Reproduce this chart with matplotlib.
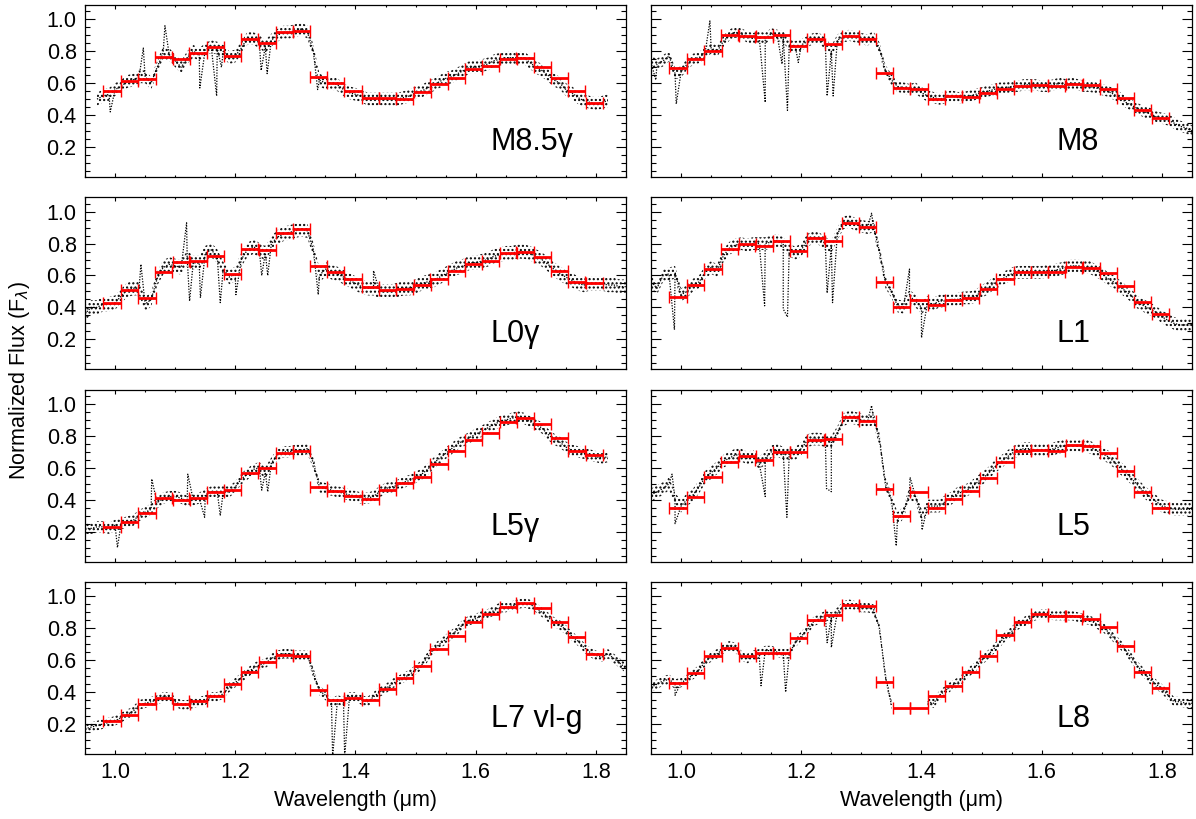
import numpy as np
import matplotlib
matplotlib.use('Agg')
import matplotlib.pyplot as plt
from matplotlib.ticker import MultipleLocator

plt.rcParams['font.family'] = ['Liberation Sans', 'DejaVu Sans']
plt.rcParams['hatch.linewidth'] = 1.0
nan = np.nan

# common wavelength grid of the spectra (microns)
wave = np.round(np.arange(0.95, 1.8501, 0.01), 2)

# bin centres of the red points and their half width
bin_wave = [0.995, 1.024, 1.053, 1.081, 1.110, 1.138, 1.167, 1.196, 1.224, 1.253,
            1.282, 1.310, 1.339, 1.367, 1.396, 1.425, 1.453, 1.482, 1.511, 1.539,
            1.568, 1.596, 1.625, 1.654, 1.682, 1.711, 1.740, 1.768, 1.797]
bin_half = 0.0143

labels = ['M8.5γ', 'M8', 'L0γ', 'L1', 'L5γ', 'L5', 'L7 vl-g', 'L8']

# spectra, 0.95 -> 1.85 in 0.01 steps
flux_m85g = [nan, nan, 0.50, 0.52, 0.53, 0.56, 0.58, 0.61, 0.62, 0.64,
             0.64, 0.60, 0.70, 0.79, 0.78, 0.74, 0.70, 0.76, 0.80, 0.78,
             0.81, 0.83, 0.82, 0.80, 0.76, 0.77, 0.82, 0.88, 0.88, 0.86,
             0.83, 0.87, 0.90, 0.92, 0.92, 0.93, 0.94, 0.92, 0.80, 0.62,
             0.60, 0.60, 0.59, 0.56, 0.54, 0.53, 0.52, 0.50, 0.50, 0.50,
             0.50, 0.50, 0.50, 0.51, 0.52, 0.54, 0.55, 0.57, 0.59, 0.61,
             0.63, 0.64, 0.66, 0.68, 0.70, 0.70, 0.71, 0.72, 0.74, 0.75,
             0.76, 0.76, 0.76, 0.76, 0.73, 0.70, 0.68, 0.65, 0.62, 0.60,
             0.56, 0.54, 0.51, 0.49, 0.48, 0.47, 0.48, 0.49, nan, nan,
             nan]
flux_m8 = [0.73, 0.72, 0.74, 0.77, 0.66, 0.67, 0.72, 0.75, 0.76, 0.79,
           0.82, 0.80, 0.86, 0.90, 0.92, 0.91, 0.89, 0.88, 0.89, 0.88,
           0.91, 0.90, 0.89, 0.84, 0.83, 0.84, 0.86, 0.88, 0.88, 0.85,
           0.80, 0.87, 0.89, 0.90, 0.89, 0.88, 0.87, 0.89, 0.82, 0.68,
           0.62, 0.58, 0.57, 0.56, 0.57, 0.54, 0.52, 0.51, 0.50, 0.51,
           0.52, 0.51, 0.51, 0.52, 0.53, 0.54, 0.55, 0.56, 0.57, 0.57,
           0.58, 0.58, 0.59, 0.59, 0.59, 0.58, 0.58, 0.59, 0.60, 0.59,
           0.60, 0.59, 0.58, 0.58, 0.57, 0.56, 0.55, 0.53, 0.51, 0.48,
           0.46, 0.44, 0.42, 0.41, 0.39, 0.38, 0.37, 0.35, 0.33, 0.32,
           0.30]
flux_l0g = [0.36, 0.40, 0.40, 0.42, 0.42, 0.43, 0.47, 0.51, 0.52, 0.52,
            0.42, 0.45, 0.58, 0.65, 0.67, 0.66, 0.65, 0.71, 0.68, 0.68,
            0.74, 0.76, 0.72, 0.64, 0.59, 0.61, 0.70, 0.76, 0.78, 0.76,
            0.74, 0.80, 0.84, 0.86, 0.87, 0.88, 0.89, 0.88, 0.76, 0.60,
            0.64, 0.62, 0.61, 0.59, 0.57, 0.55, 0.53, 0.52, 0.52, 0.50,
            0.50, 0.50, 0.51, 0.52, 0.52, 0.53, 0.55, 0.56, 0.57, 0.59,
            0.61, 0.63, 0.65, 0.66, 0.68, 0.68, 0.69, 0.70, 0.72, 0.73,
            0.74, 0.74, 0.75, 0.75, 0.74, 0.72, 0.70, 0.67, 0.64, 0.61,
            0.59, 0.57, 0.55, 0.54, 0.55, 0.55, 0.55, 0.54, 0.54, 0.53,
            0.53]
flux_l1 = [0.56, 0.52, 0.60, 0.61, 0.62, 0.48, 0.50, 0.54, 0.56, 0.62,
           0.65, 0.63, 0.72, 0.77, 0.79, 0.80, 0.79, 0.80, 0.80, 0.80,
           0.81, 0.82, 0.80, 0.76, 0.74, 0.76, 0.82, 0.84, 0.83, 0.80,
           0.78, 0.86, 0.93, 0.94, 0.92, 0.91, 0.90, 0.91, 0.75, 0.56,
           0.50, 0.41, 0.40, 0.47, 0.44, 0.40, 0.43, 0.42, 0.44, 0.44,
           0.45, 0.45, 0.46, 0.46, 0.47, 0.50, 0.52, 0.55, 0.57, 0.59,
           0.61, 0.62, 0.62, 0.62, 0.62, 0.62, 0.63, 0.63, 0.64, 0.65,
           0.66, 0.66, 0.65, 0.65, 0.63, 0.61, 0.58, 0.56, 0.53, 0.50,
           0.47, 0.43, 0.41, 0.39, 0.37, 0.34, 0.32, 0.30, 0.29, 0.29,
           0.29]
flux_l5g = [0.22, 0.22, 0.23, 0.23, 0.22, 0.24, 0.25, 0.26, 0.27, 0.30,
            0.32, 0.34, 0.38, 0.41, 0.42, 0.42, 0.41, 0.39, 0.40, 0.41,
            0.43, 0.45, 0.45, 0.45, 0.45, 0.48, 0.53, 0.56, 0.59, 0.60,
            0.57, 0.63, 0.68, 0.70, 0.70, 0.71, 0.71, 0.72, 0.63, 0.48,
            0.47, 0.46, 0.45, 0.44, 0.43, 0.42, 0.41, 0.41, 0.42, 0.45,
            0.47, 0.48, 0.49, 0.51, 0.52, 0.54, 0.56, 0.59, 0.63, 0.66,
            0.69, 0.72, 0.75, 0.77, 0.79, 0.81, 0.83, 0.85, 0.87, 0.89,
            0.90, 0.91, 0.92, 0.91, 0.89, 0.87, 0.85, 0.81, 0.78, 0.76,
            0.73, 0.71, 0.70, 0.69, 0.68, 0.67, 0.66, 0.67, nan, nan,
            nan]
flux_l5 = [0.43, 0.45, 0.47, 0.50, 0.40, 0.36, 0.40, 0.43, 0.48, 0.54,
           0.57, 0.60, 0.64, 0.66, 0.68, 0.68, 0.66, 0.67, 0.63, 0.66,
           0.70, 0.71, 0.69, 0.69, 0.69, 0.72, 0.77, 0.78, 0.78, 0.77,
           0.76, 0.82, 0.90, 0.92, 0.91, 0.90, 0.89, 0.91, 0.78, 0.50,
           0.40, 0.28, 0.32, 0.44, 0.42, 0.30, 0.36, 0.36, 0.36, 0.39,
           0.41, 0.44, 0.45, 0.47, 0.50, 0.53, 0.56, 0.60, 0.63, 0.66,
           0.69, 0.71, 0.72, 0.72, 0.71, 0.71, 0.71, 0.72, 0.73, 0.74,
           0.74, 0.74, 0.74, 0.73, 0.71, 0.69, 0.67, 0.64, 0.60, 0.57,
           0.53, 0.49, 0.45, 0.42, 0.39, 0.36, 0.35, 0.34, 0.34, 0.34,
           0.34]
flux_l7 = [0.17, 0.18, 0.19, 0.20, 0.21, 0.22, 0.24, 0.26, 0.28, 0.32,
           0.33, 0.34, 0.35, 0.37, 0.37, 0.34, 0.32, 0.32, 0.33, 0.34,
           0.35, 0.37, 0.37, 0.39, 0.43, 0.46, 0.49, 0.52, 0.55, 0.57,
           0.58, 0.61, 0.63, 0.64, 0.64, 0.63, 0.63, 0.63, 0.52, 0.41,
           0.38, 0.33, 0.35, 0.34, 0.37, 0.37, 0.35, 0.34, 0.37, 0.40,
           0.42, 0.45, 0.47, 0.49, 0.51, 0.54, 0.57, 0.62, 0.67, 0.70,
           0.73, 0.76, 0.79, 0.83, 0.85, 0.86, 0.88, 0.89, 0.91, 0.93,
           0.93, 0.94, 0.95, 0.96, 0.95, 0.93, 0.90, 0.87, 0.84, 0.82,
           0.79, 0.75, 0.72, 0.68, 0.65, 0.63, 0.62, 0.64, 0.61, 0.58,
           0.55]
flux_l8 = [0.43, 0.45, 0.47, 0.48, 0.45, 0.46, 0.48, 0.51, 0.54, 0.59,
           0.62, 0.64, 0.67, 0.69, 0.68, 0.63, 0.61, 0.63, 0.64, 0.66,
           0.66, 0.65, 0.64, 0.64, 0.71, 0.75, 0.79, 0.84, 0.86, 0.88,
           0.87, 0.90, 0.94, 0.95, 0.94, 0.93, 0.93, 0.92, 0.80, 0.50,
           0.32, nan, nan, nan, nan, nan, 0.34, 0.33, 0.38, 0.41,
           0.44, 0.46, 0.49, 0.53, 0.56, 0.60, 0.63, 0.67, 0.71, 0.75,
           0.78, 0.82, 0.84, 0.86, 0.88, 0.89, 0.89, 0.88, 0.88, 0.88,
           0.88, 0.87, 0.86, 0.85, 0.83, 0.81, 0.78, 0.74, 0.70, 0.66,
           0.61, 0.56, 0.52, 0.48, 0.45, 0.42, 0.38, 0.34, 0.34, 0.33,
           0.33]

# narrow absorption lines / spikes (wavelength, flux)
lines_m85g = [(0.992, 0.42), (1.047, 0.82), (1.083, 0.96), (1.141, 0.57), (1.169, 0.52),
              (1.177, 0.70), (1.243, 0.68), (1.253, 0.66), (1.337, 0.56)]
lines_m8 = [(0.958, 0.62), (0.992, 0.47), (1.048, 0.99), (1.140, 0.48), (1.168, 0.72),
            (1.177, 0.43), (1.195, 0.73), (1.243, 0.52), (1.253, 0.52)]
lines_l0g = [(1.043, 0.67), (1.119, 0.93), (1.124, 0.44), (1.142, 0.46), (1.175, 0.43),
             (1.201, 0.48), (1.244, 0.60), (1.254, 0.60), (1.338, 0.48), (1.430, 0.63)]
lines_l1 = [(0.989, 0.26), (1.139, 0.41), (1.170, 0.39), (1.177, 0.34), (1.243, 0.49),
            (1.252, 0.43), (1.317, 0.99), (1.380, 0.64), (1.400, 0.21)]
lines_l5g = [(1.004, 0.10), (1.061, 0.53), (1.121, 0.56), (1.149, 0.29), (1.175, 0.30),
             (1.244, 0.46), (1.254, 0.45)]
lines_l5 = [(0.985, 0.56), (0.990, 0.25), (1.140, 0.42), (1.176, 0.29), (1.242, 0.47),
            (1.250, 0.45), (1.317, 0.99), (1.358, 0.11), (1.381, 0.54), (1.401, 0.21)]
lines_l7 = [(1.362, 0.0), (1.382, 0.0)]
lines_l8 = [(0.990, 0.38), (1.133, 0.44), (1.174, 0.40), (1.243, 0.71), (1.250, 0.68)]

# scatter of the spectra (half width of the noisy band)
scatter = [0.04, 0.035, 0.045, 0.04, 0.035, 0.04, 0.03, 0.03]

# binned red points
bins_m85g = [0.549, 0.614, 0.626, 0.762, 0.751, 0.791, 0.829, 0.772, 0.877, 0.852,
             0.921, 0.927, 0.639, 0.601, 0.553, 0.507, 0.505, 0.501, 0.543, 0.593,
             0.632, 0.689, 0.708, 0.751, 0.760, 0.703, 0.630, 0.551, 0.478]
bins_m8 = [0.693, 0.751, 0.799, 0.904, 0.898, 0.891, 0.902, 0.833, 0.877, 0.845,
           0.898, 0.877, 0.664, 0.570, 0.563, 0.503, 0.517, 0.513, 0.540, 0.561,
           0.580, 0.586, 0.580, 0.597, 0.586, 0.561, 0.505, 0.432, 0.382]
bins_l0g = [0.428, 0.512, 0.462, 0.619, 0.686, 0.692, 0.719, 0.608, 0.768, 0.759,
            0.864, 0.889, 0.661, 0.623, 0.575, 0.529, 0.512, 0.514, 0.539, 0.581,
            0.627, 0.673, 0.690, 0.738, 0.749, 0.717, 0.629, 0.560, 0.556]
bins_l1 = [0.465, 0.542, 0.638, 0.767, 0.798, 0.783, 0.815, 0.756, 0.835, 0.819,
           0.929, 0.902, 0.558, 0.402, 0.444, 0.417, 0.448, 0.458, 0.515, 0.575,
           0.621, 0.621, 0.621, 0.652, 0.646, 0.615, 0.531, 0.431, 0.356]
bins_l5g = [0.231, 0.258, 0.317, 0.409, 0.401, 0.411, 0.451, 0.461, 0.568, 0.599,
            0.693, 0.703, 0.478, 0.453, 0.426, 0.405, 0.463, 0.505, 0.545, 0.624,
            0.708, 0.777, 0.816, 0.885, 0.912, 0.875, 0.785, 0.708, 0.680]
bins_l5 = [0.347, 0.415, 0.541, 0.635, 0.672, 0.651, 0.697, 0.697, 0.777, 0.781,
           0.916, 0.891, 0.468, 0.296, 0.451, 0.349, 0.405, 0.457, 0.534, 0.635,
           0.708, 0.714, 0.704, 0.743, 0.739, 0.693, 0.582, 0.451, 0.347]
bins_l7 = [0.219, 0.254, 0.327, 0.362, 0.327, 0.342, 0.373, 0.448, 0.529, 0.588,
           0.635, 0.629, 0.410, 0.352, 0.365, 0.348, 0.421, 0.488, 0.563, 0.667,
           0.752, 0.842, 0.890, 0.935, 0.958, 0.925, 0.838, 0.748, 0.640]
bins_l8 = [0.457, 0.520, 0.624, 0.676, 0.628, 0.645, 0.645, 0.737, 0.852, 0.883,
           0.948, 0.937, 0.461, 0.301, 0.301, 0.374, 0.441, 0.528, 0.624, 0.758,
           0.837, 0.889, 0.875, 0.879, 0.858, 0.806, 0.691, 0.528, 0.426]

fluxes = [flux_m85g, flux_m8, flux_l0g, flux_l1, flux_l5g, flux_l5, flux_l7, flux_l8]
lines = [lines_m85g, lines_m8, lines_l0g, lines_l1, lines_l5g, lines_l5, lines_l7, lines_l8]
bins = [bins_m85g, bins_m8, bins_l0g, bins_l1, bins_l5g, bins_l5, bins_l7, bins_l8]

W, H = 1196, 819
fig = plt.figure(figsize=(W / 100, H / 100), dpi=100)

col_left = [85, 651]
row_top = [5, 197.3, 389.6, 582]
pw, ph = 541, 172

for i in range(8):
    row, col = i // 2, i % 2
    ax = fig.add_axes([col_left[col] / W, 1 - (row_top[row] + ph) / H, pw / W, ph / H])

    flux = np.array(fluxes[i], dtype=float)
    # noisy band of the spectrum
    ax.fill_between(wave, flux - scatter[i], flux + scatter[i], facecolor='none',
                    edgecolor='k', hatch='....', linewidth=0)
    # spectrum with the narrow lines merged in
    lx = np.array([p[0] for p in lines[i]])
    ly = np.array([p[1] for p in lines[i]])
    x = np.concatenate([wave, lx])
    y = np.concatenate([flux, ly])
    order = np.argsort(x)
    ax.plot(x[order], y[order], color='k', linestyle=(0, (1, 1.2)), linewidth=0.9)

    ax.errorbar(bin_wave, bins[i], xerr=bin_half, fmt='none', ecolor='#ff0000',
                elinewidth=2.0, capsize=4.0, capthick=1.0, zorder=5)

    ax.text(1.625, 0.18, labels[i], fontsize=22)

    ax.set_xlim(0.95, 1.85)
    ax.set_ylim(0.012, 1.09)
    ax.set_xticks([1.0, 1.2, 1.4, 1.6, 1.8])
    ax.set_yticks([0.2, 0.4, 0.6, 0.8, 1.0])
    ax.xaxis.set_minor_locator(MultipleLocator(0.05))
    ax.yaxis.set_minor_locator(MultipleLocator(0.05))
    ax.tick_params(which='both', direction='in', top=True, right=True, width=0.8,
                   labelsize=15.5, pad=6)
    ax.tick_params(axis='x', which='major', length=3)
    ax.tick_params(axis='x', which='minor', length=1.5)
    ax.tick_params(axis='y', which='major', length=7.5)
    ax.tick_params(axis='y', which='minor', length=3.8)
    ax.set_xticklabels(['1.0', '1.2', '1.4', '1.6', '1.8'])
    ax.set_yticklabels(['0.2', '0.4', '0.6', '0.8', '1.0'])
    for s in ax.spines.values():
        s.set_linewidth(0.9)
    if col == 1:
        ax.tick_params(axis='y', labelleft=False)
    if row < 3:
        ax.tick_params(axis='x', labelbottom=False)
    else:
        ax.set_xlabel('Wavelength (μm)', fontsize=15.5, labelpad=5)

fig.text(0.016, 0.535, 'Normalized Flux (F$_\\lambda$)', rotation=90, fontsize=15.5,
         ha='center', va='center')

fig.savefig('out.png', dpi=100)
